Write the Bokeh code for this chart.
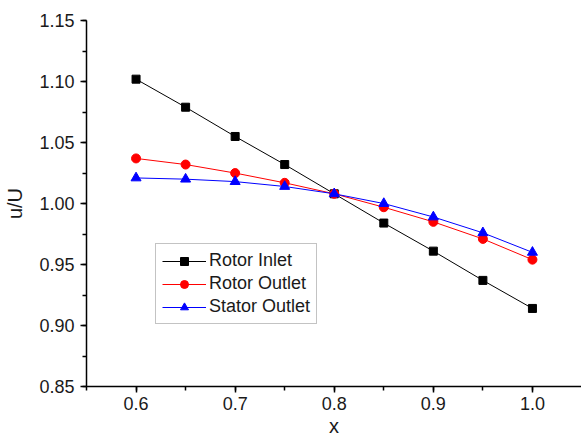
from bokeh.plotting import figure
from bokeh.models import SingleIntervalTicker, Range1d, NumeralTickFormatter
from bokeh.embed import file_html
from bokeh.resources import INLINE

x = [0.6, 0.65, 0.7, 0.75, 0.8, 0.85, 0.9, 0.95, 1.0]
rotor_inlet = [1.102, 1.079, 1.055, 1.032, 1.008, 0.984, 0.961, 0.937, 0.914]
rotor_outlet = [1.037, 1.032, 1.025, 1.017, 1.008, 0.997, 0.985, 0.971, 0.954]
stator_outlet = [1.021, 1.020, 1.018, 1.014, 1.008, 1.000, 0.989, 0.976, 0.960]

FONT = "Liberation Sans"
TXT = "#1a1a1a"

p = figure(width=581, height=443, output_backend="svg", toolbar_location=None,
           x_range=Range1d(0.55, 1.0495), y_range=Range1d(0.85, 1.1501),
           min_border_left=86, min_border_top=20, min_border_right=0, min_border_bottom=57)
p.outline_line_color = None
p.grid.visible = False

p.line(x, rotor_inlet, color="black", line_width=1, legend_label="Rotor Inlet")
p.scatter(x, rotor_inlet, marker="square", size=8, color="black", legend_label="Rotor Inlet")
p.line(x, rotor_outlet, color="red", line_width=1, legend_label="Rotor Outlet")
p.scatter(x, rotor_outlet, marker="circle", size=9, color="red", legend_label="Rotor Outlet")
p.line(x, stator_outlet, color="blue", line_width=1, legend_label="Stator Outlet")
p.scatter(x, stator_outlet, marker="triangle", size=10, color="blue", legend_label="Stator Outlet")

p.xaxis.ticker = SingleIntervalTicker(interval=0.1, num_minor_ticks=2)
p.yaxis.ticker = SingleIntervalTicker(interval=0.05, num_minor_ticks=2)
p.xaxis.formatter = NumeralTickFormatter(format="0.0")
p.yaxis.formatter = NumeralTickFormatter(format="0.00")

for ax in (p.xaxis, p.yaxis):
    ax.axis_line_width = 1.5
    ax.axis_line_color = "black"
    ax.major_tick_line_width = 1.5
    ax.minor_tick_line_width = 1.5
    ax.major_tick_out = 6
    ax.major_tick_in = 0
    ax.minor_tick_out = 4
    ax.minor_tick_in = 0
    ax.major_label_text_font = FONT
    ax.major_label_text_font_size = "18px"
    ax.major_label_text_color = TXT
    ax.axis_label_text_font = FONT
    ax.axis_label_text_font_size = "20px"
    ax.axis_label_text_font_style = "normal"
    ax.axis_label_text_color = TXT

p.xaxis.axis_label = "x"
p.yaxis.axis_label = "u/U"
p.xaxis.major_label_standoff = 4
p.xaxis.axis_label_standoff = 2
p.yaxis.major_label_standoff = 6
p.yaxis.axis_label_standoff = 10

lg = p.legend[0]
lg.location = (69, 62)
lg.border_line_color = "#888888"
lg.border_line_width = 1.5
lg.label_text_font = FONT
lg.label_text_font_size = "18px"
lg.label_text_color = TXT
lg.glyph_width = 44
lg.glyph_height = 20
lg.spacing = 2
lg.padding = 6
lg.margin = 0
lg.label_standoff = 3
lg.background_fill_alpha = 1

open("out.html", "w").write(file_html(p, INLINE))
